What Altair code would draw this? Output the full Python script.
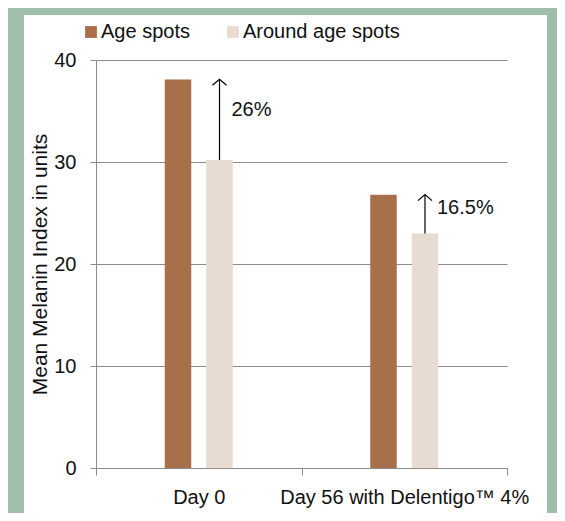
import altair as alt
import pandas as pd

days = ["Day 0", "Day 56 with Delentigo™ 4%"]
series = ["Age spots", "Around age spots"]
age_spots = [38.1, 26.8]
around_spots = [30.2, 23.0]
pct_labels = ["26%", "16.5%"]
y_ticks = [0, 10, 20, 30, 40]

colors = ["#A8704A", "#E8DBD1"]
FONT = "Liberation Sans"
GRAY = "#8c8c8c"
GREEN = "#9fbfab"

bars = pd.DataFrame(
    [{"day": d, "series": series[0], "value": v} for d, v in zip(days, age_spots)]
    + [{"day": d, "series": series[1], "value": v} for d, v in zip(days, around_spots)]
)
arrows = pd.DataFrame(
    {"day": days, "series": [series[1]] * 2, "age": age_spots,
     "around": around_spots, "label": pct_labels}
)

# spacer slots on both sides keep the bar pair narrow and centred in each band
offset_domain = ["_left"] + series + ["_right"]

xenc = alt.X(
    "day:N", sort=days,
    scale=alt.Scale(paddingInner=0, paddingOuter=0),
    axis=alt.Axis(title=None, labelAngle=0, tickBand="extent", grid=False,
                  domainColor=GRAY, tickColor=GRAY, tickSize=7,
                  labelPadding=12, labelFontSize=20, labelFont=FONT,
                  labelColor="#111", labelLimit=600),
)
xoff = alt.XOffset("series:N",
                   scale=alt.Scale(domain=offset_domain, paddingInner=0.361,
                                   paddingOuter=0.657))

one = pd.DataFrame({"a": [0]})
frame_left = alt.Chart(one).mark_rect(color=GREEN).encode(
    x=alt.value(-88), x2=alt.value(-72), y=alt.value(-52), y2=alt.value(453))
frame_top = alt.Chart(one).mark_rect(color=GREEN).encode(
    x=alt.value(-88), x2=alt.value(461), y=alt.value(-52), y2=alt.value(-45))
frame_right = alt.Chart(one).mark_rect(color=GREEN).encode(
    x=alt.value(451), x2=alt.value(461), y=alt.value(-52), y2=alt.value(453))

bar_layer = alt.Chart(bars).mark_bar().encode(
    x=xenc,
    xOffset=xoff,
    y=alt.Y("value:Q", scale=alt.Scale(domain=[0, 40], nice=False),
            axis=alt.Axis(title="Mean Melanin Index in units", values=y_ticks,
                          titleFontSize=21, titleFont=FONT, titleFontWeight="normal",
                          titleColor="#111", titlePadding=3,
                          labelFontSize=20, labelFont=FONT, labelColor="#111",
                          labelPadding=14, tickSize=6, grid=True,
                          gridColor=GRAY, domainColor=GRAY, tickColor=GRAY)),
    color=alt.Color("series:N", sort=series,
                    scale=alt.Scale(domain=series, range=colors),
                    legend=alt.Legend(title=None, orient="none", legendX=-15,
                                      legendY=-38, direction="horizontal",
                                      symbolType="square", symbolSize=140,
                                      symbolStrokeWidth=0, labelOffset=0,
                                      columnPadding=33, labelFontSize=20,
                                      labelFont=FONT, labelColor="#111")),
)

rule_layer = alt.Chart(arrows).mark_rule(color="black", strokeWidth=1.2).encode(
    x=alt.X("day:N", sort=days), xOffset=alt.XOffset("series:N"),
    y="around:Q", y2="age:Q",
)

head_layer = alt.Chart(arrows).mark_point(
    shape="M-1,0.85L0,0L1,0.85", filled=False, size=196, color="black",
    strokeWidth=1.2, opacity=1,
).encode(
    x=alt.X("day:N", sort=days), xOffset=alt.XOffset("series:N"),
    y="age:Q",
)

text_layer = alt.Chart(arrows).transform_calculate(
    ly="datum.age - 0.4 * (datum.age - datum.around)"
).mark_text(align="left", baseline="middle", dx=12, dy=-2, fontSize=20, font=FONT,
            color="#111").encode(
    x=alt.X("day:N", sort=days), xOffset=alt.XOffset("series:N"),
    y="ly:Q", text="label:N",
)

chart = alt.layer(frame_left, frame_top, frame_right, bar_layer, rule_layer,
                  head_layer, text_layer).properties(
    width=411, height=408,
    background="white",
    padding=0,
).configure_view(stroke=None)

chart.save("out.html", embed_options={"renderer": "svg", "actions": False})
